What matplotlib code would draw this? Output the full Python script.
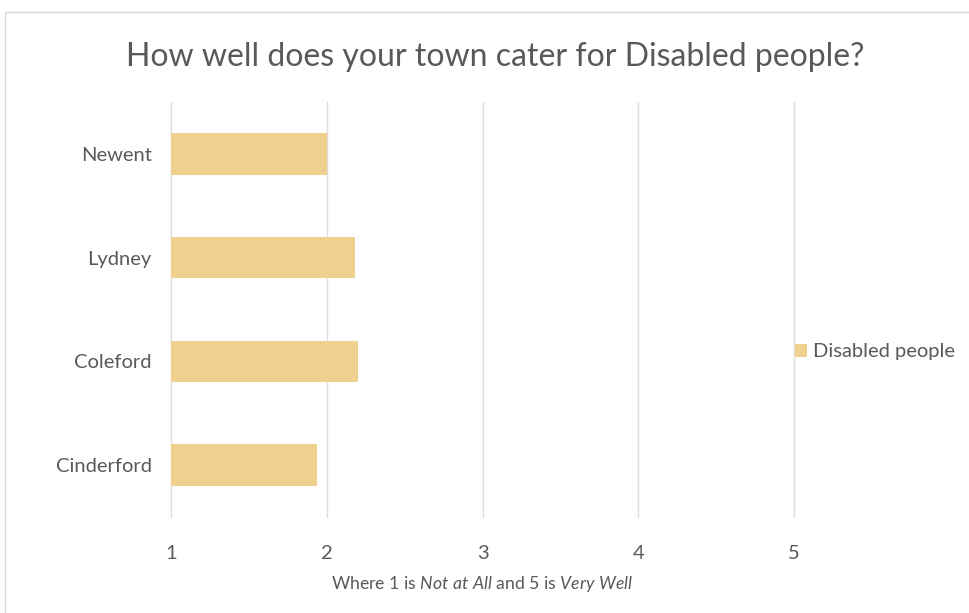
import matplotlib.pyplot as plt
from matplotlib.patches import Rectangle

# survey scores per town (1 = not at all, 5 = very well)
towns = ['Cinderford', 'Coleford', 'Lydney', 'Newent']
scores = [1.94, 2.20, 2.18, 2.00]
series_name = 'Disabled people'
xticks = [1, 2, 3, 4, 5]

bar_color = '#F0D08E'
text_color = '#595959'
grid_color = '#DDDDDD'

plt.rcParams['font.family'] = ['Lato', 'DejaVu Sans']
plt.rcParams['mathtext.fontset'] = 'custom'
plt.rcParams['mathtext.rm'] = 'Lato'
plt.rcParams['mathtext.it'] = 'Lato:italic'

W, H = 969, 613
fig = plt.figure(figsize=(W / 100, H / 100), dpi=100)
fig.patch.set_facecolor('white')

# chart frame
fig.add_artist(Rectangle((5 / W, -0.01), 1.0, 1 - 12 / H + 0.01,
                         transform=fig.transFigure, fill=False,
                         edgecolor='#D9D9D9', lw=1.0))

ax = fig.add_axes([171 / W, 1 - 517 / H, (794 - 171) / W, (517 - 102) / H])
widths = [s - 1 for s in scores]
bars = ax.barh(towns, widths, left=1, height=0.4, color=bar_color,
               label=series_name, zorder=2)

ax.set_xlim(1, 5)
ax.set_ylim(-0.5, len(towns) - 0.5)
ax.set_xticks(xticks)
ax.xaxis.grid(True, color=grid_color, lw=1.0, zorder=0)
for gl in ax.get_xgridlines():
    gl.set_clip_on(False)
ax.set_axisbelow(True)
for sp in ax.spines.values():
    sp.set_visible(False)
ax.tick_params(axis='both', length=0, colors=text_color, labelsize=14.5)
ax.tick_params(axis='x', pad=20)
ax.tick_params(axis='y', pad=14)

ax.set_xlabel(r'Where 1 is $\it{Not\ at\ All}$ and 5 is $\it{Very\ Well}$',
              color=text_color, fontsize=12.7, labelpad=9)

fig.text(495 / W, 1 - 57 / H, 'How well does your town cater for Disabled people?',
         ha='center', va='center', fontsize=23, color=text_color)

fig.legend(handles=[bars], labels=[series_name], loc='center left',
           bbox_to_anchor=(777 / W, 1 - 352 / H), frameon=False,
           fontsize=14.5, labelcolor=text_color, handlelength=0.6,
           handleheight=0.6, handletextpad=0.3)

fig.savefig('out.png', dpi=100)
